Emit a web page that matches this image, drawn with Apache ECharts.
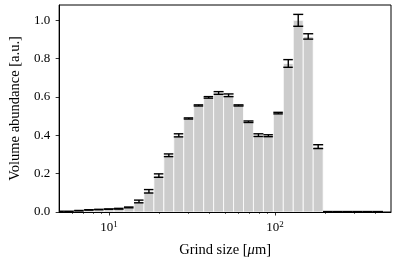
<!DOCTYPE html>
<html><head><meta charset="utf-8">
<script src="https://cdn.jsdelivr.net/npm/echarts@6/dist/echarts.min.js"></script>
<style>html,body{margin:0;padding:0;background:#fff}#c{width:396px;height:264px}</style>
</head><body><div id="c"></div>
<script>
// Bin centres (grind size, µm) on a log grid
const grindSize = [5.012, 5.754, 6.607, 7.586, 8.710, 10.00, 11.48, 13.18, 15.14, 17.38,
  19.95, 22.91, 26.30, 30.20, 34.67, 39.81, 45.71, 52.48, 60.26, 69.18,
  79.43, 91.20, 104.7, 120.2, 138.0, 158.5, 182.0, 208.9, 239.9, 275.4,
  316.2, 363.1, 416.9];
const abundance = [0.003, 0.003, 0.007, 0.011, 0.013, 0.015, 0.017, 0.024, 0.055, 0.108,
  0.190, 0.296, 0.400, 0.488, 0.556, 0.598, 0.621, 0.609, 0.556, 0.471,
  0.401, 0.398, 0.516, 0.775, 1.000, 0.916, 0.341, 0.002, 0.002, 0.002,
  0.002, 0.002, 0.002];
const abundanceErr = [0.000, 0.000, 0.001, 0.001, 0.001, 0.001, 0.002, 0.002, 0.007, 0.009,
  0.009, 0.007, 0.008, 0.003, 0.003, 0.004, 0.007, 0.007, 0.003, 0.004,
  0.007, 0.005, 0.004, 0.020, 0.031, 0.014, 0.010, 0.000, 0.000, 0.000,
  0.000, 0.000, 0.000];
const xMajorTicks = [10, 100];
const xMinorTicks = [6, 7, 8, 9, 20, 30, 40, 50, 60, 70, 80, 90, 200, 300, 400];
const yTicks = [0, 0.2, 0.4, 0.6, 0.8, 1.0];

const FONT = 'Liberation Serif';
const HALF_BIN_LOG = 0.03;
const CAP = 5;

const chart = echarts.init(document.getElementById('c'), null, {renderer: 'canvas'});
const barData = grindSize.map((x, i) => [x, abundance[i], abundanceErr[i]]);

function renderBar(params, api) {
  const x = api.value(0), y = api.value(1), e = api.value(2);
  const lx = Math.log10(x);
  const tl = api.coord([Math.pow(10, lx - HALF_BIN_LOG), y]);
  const br = api.coord([Math.pow(10, lx + HALF_BIN_LOG), 0]);
  const c = api.coord([x, y]);
  const lo = api.coord([x, y - e]);
  const hi = api.coord([x, y + e]);
  const errStyle = {stroke: '#000', lineWidth: 1.4};
  return {
    type: 'group',
    children: [
      {type: 'rect', shape: {x: tl[0], y: tl[1], width: br[0] - tl[0], height: br[1] - tl[1]},
       style: {fill: '#cccccc', stroke: '#ffffff', lineWidth: 0.8}},
      {type: 'line', shape: {x1: c[0], y1: lo[1], x2: c[0], y2: hi[1]}, style: errStyle},
      {type: 'line', shape: {x1: c[0] - CAP, y1: lo[1], x2: c[0] + CAP, y2: lo[1]}, style: errStyle},
      {type: 'line', shape: {x1: c[0] - CAP, y1: hi[1], x2: c[0] + CAP, y2: hi[1]}, style: errStyle}
    ]
  };
}

const option = {
  animation: false,
  textStyle: {fontFamily: FONT, color: '#000'},
  grid: {left: 55, right: 5, top: 5, bottom: 52, show: true, borderColor: '#000', borderWidth: 1},
  xAxis: [{
    type: 'log', logBase: 10, min: 5, max: 500,
    name: 'Grind size [{i|μ}m]', nameLocation: 'middle', nameGap: 31,
    nameTextStyle: {fontFamily: FONT, fontSize: 14.5, color: '#000',
      rich: {i: {fontFamily: FONT, fontSize: 14.5, fontStyle: 'italic', color: '#000'}}},
    axisLine: {show: true, lineStyle: {color: '#000', width: 1}},
    axisTick: {show: true, customValues: xMajorTicks, length: 3.5, lineStyle: {color: '#000', width: 0.8}},
    minorTick: {show: false},
    splitLine: {show: false},
    axisLabel: {customValues: xMajorTicks, margin: 8, fontFamily: FONT, fontSize: 13, color: '#000',
      formatter: v => '10{s|' + Math.round(Math.log10(v)) + '}',
      rich: {s: {fontFamily: FONT, fontSize: 9, color: '#000', padding: [0, 0, 7, 0]}}}
  }, {
    type: 'log', logBase: 10, min: 5, max: 500, position: 'bottom',
    axisLine: {show: false},
    axisTick: {show: true, customValues: xMinorTicks, length: 2, lineStyle: {color: '#000', width: 0.6}},
    minorTick: {show: false},
    splitLine: {show: false},
    axisLabel: {show: false}
  }],
  yAxis: {
    type: 'value', min: 0, max: 1.08,
    name: 'Volume abundance [a.u.]', nameLocation: 'middle', nameGap: 36,
    nameTextStyle: {fontFamily: FONT, fontSize: 14.5, color: '#000'},
    axisLine: {show: true, lineStyle: {color: '#000', width: 1}},
    axisTick: {show: true, customValues: yTicks, length: 3.5, lineStyle: {color: '#000', width: 0.8}},
    splitLine: {show: false},
    axisLabel: {customValues: yTicks, margin: 9, fontFamily: FONT, fontSize: 13, color: '#000',
      formatter: v => v.toFixed(1)}
  },
  series: [{
    type: 'custom', xAxisIndex: 0, yAxisIndex: 0, clip: true,
    data: barData, encode: {x: 0, y: 1},
    renderItem: renderBar
  }]
};
chart.setOption(option);
</script></body></html>
